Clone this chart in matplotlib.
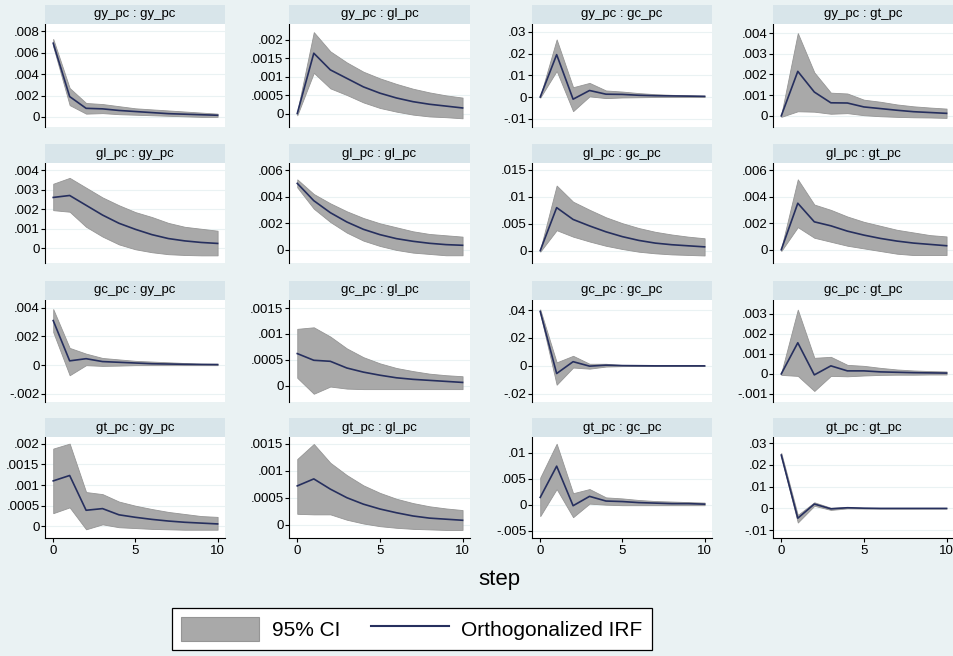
import numpy as np
import matplotlib
matplotlib.use("Agg")
from matplotlib import pyplot as plt
from matplotlib.patches import Patch, Rectangle
from matplotlib.lines import Line2D
from matplotlib.ticker import FuncFormatter

plt.rcParams['font.family'] = ['Liberation Sans', 'DejaVu Sans']

# variable names, impulse : response
names = ['gy_pc', 'gl_pc', 'gc_pc', 'gt_pc']
steps = list(range(11))

# orthogonalized IRF, [impulse][response]
irf = {
    ('gy_pc', 'gy_pc'): [0.0069, 0.0019, 0.0008, 0.00075, 0.0006, 0.0005, 0.0004, 0.0003, 0.00025, 0.0002, 0.00015],
    ('gy_pc', 'gl_pc'): [0.0, 0.00163, 0.00118, 0.00095, 0.00072, 0.00055, 0.00042, 0.00032, 0.00025, 0.0002, 0.00015],
    ('gy_pc', 'gc_pc'): [0.0, 0.0195, -0.001, 0.003, 0.0013, 0.0012, 0.0008, 0.0006, 0.0005, 0.0004, 0.0003],
    ('gy_pc', 'gt_pc'): [0.0, 0.00215, 0.00115, 0.00063, 0.00062, 0.00043, 0.00035, 0.00027, 0.0002, 0.00016, 0.00012],
    ('gl_pc', 'gy_pc'): [0.0026, 0.0027, 0.0022, 0.0017, 0.00128, 0.00097, 0.0007, 0.0005, 0.00038, 0.0003, 0.00025],
    ('gl_pc', 'gl_pc'): [0.005, 0.0037, 0.0028, 0.0021, 0.00155, 0.00115, 0.00085, 0.00065, 0.0005, 0.0004, 0.00035],
    ('gl_pc', 'gc_pc'): [0.0, 0.008, 0.0058, 0.0046, 0.0035, 0.0026, 0.0019, 0.0014, 0.0011, 0.0009, 0.0007],
    ('gl_pc', 'gt_pc'): [0.0, 0.0035, 0.0021, 0.0018, 0.0014, 0.0011, 0.00085, 0.00065, 0.0005, 0.0004, 0.0003],
    ('gc_pc', 'gy_pc'): [0.0031, 0.0003, 0.00045, 0.00025, 0.0002, 0.00015, 0.0001, 0.00008, 0.00006, 0.00005, 0.00004],
    ('gc_pc', 'gl_pc'): [0.00062, 0.00049, 0.00047, 0.00034, 0.00026, 0.0002, 0.00015, 0.00012, 0.0001, 0.00008, 0.00006],
    ('gc_pc', 'gc_pc'): [0.039, -0.0055, 0.003, -0.0002, 0.0005, 0.0002, 0.0001, 0.0, 0.0, 0.0, 0.0],
    ('gc_pc', 'gt_pc'): [0.0, 0.00155, -0.00005, 0.0004, 0.00015, 0.00015, 0.0001, 0.00008, 0.00006, 0.00005, 0.00004],
    ('gt_pc', 'gy_pc'): [0.0011, 0.00123, 0.00039, 0.00043, 0.00028, 0.00022, 0.00017, 0.00013, 0.0001, 0.00008, 0.00006],
    ('gt_pc', 'gl_pc'): [0.00072, 0.00085, 0.00066, 0.0005, 0.00038, 0.00029, 0.00022, 0.00016, 0.00012, 0.0001, 0.00008],
    ('gt_pc', 'gc_pc'): [0.0014, 0.0074, -0.0002, 0.0016, 0.0007, 0.0006, 0.0004, 0.0003, 0.0002, 0.0002, 0.0001],
    ('gt_pc', 'gt_pc'): [0.0245, -0.0045, 0.002, -0.0002, 0.0003, 0.0001, 0.0, 0.0, 0.0, 0.0, 0.0],
}

# 95% CI upper bound
upper = {
    ('gy_pc', 'gy_pc'): [0.0073, 0.0027, 0.0013, 0.0012, 0.001, 0.0008, 0.0007, 0.0006, 0.0005, 0.0004, 0.0003],
    ('gy_pc', 'gl_pc'): [0.00005, 0.0022, 0.00168, 0.00138, 0.00113, 0.00095, 0.0008, 0.00067, 0.00057, 0.00049, 0.00043],
    ('gy_pc', 'gc_pc'): [0.0003, 0.0265, 0.0045, 0.0065, 0.003, 0.0025, 0.0018, 0.0013, 0.001, 0.0008, 0.0006],
    ('gy_pc', 'gt_pc'): [0.00005, 0.004, 0.0021, 0.00112, 0.00108, 0.00078, 0.00068, 0.00055, 0.00046, 0.0004, 0.00035],
    ('gl_pc', 'gy_pc'): [0.0033, 0.0036, 0.0031, 0.0026, 0.0022, 0.00185, 0.0016, 0.0013, 0.0011, 0.001, 0.0009],
    ('gl_pc', 'gl_pc'): [0.0053, 0.0042, 0.0035, 0.0029, 0.0024, 0.002, 0.0017, 0.0014, 0.0012, 0.0011, 0.001],
    ('gl_pc', 'gc_pc'): [0.0002, 0.0121, 0.0091, 0.0076, 0.0062, 0.0051, 0.0042, 0.0035, 0.003, 0.0026, 0.0023],
    ('gl_pc', 'gt_pc'): [0.0001, 0.0053, 0.0034, 0.003, 0.0025, 0.0021, 0.0018, 0.0015, 0.0013, 0.0011, 0.001],
    ('gc_pc', 'gy_pc'): [0.0039, 0.0012, 0.0008, 0.0005, 0.0004, 0.0003, 0.00025, 0.0002, 0.00015, 0.0001, 0.0001],
    ('gc_pc', 'gl_pc'): [0.0011, 0.00113, 0.00095, 0.00072, 0.00055, 0.00043, 0.00034, 0.00028, 0.00023, 0.0002, 0.00018],
    ('gc_pc', 'gc_pc'): [0.0405, 0.0025, 0.0072, 0.0015, 0.0015, 0.0006, 0.0003, 0.0002, 0.0001, 0.0001, 0.0001],
    ('gc_pc', 'gt_pc'): [0.00005, 0.0032, 0.0008, 0.00085, 0.00045, 0.0004, 0.0003, 0.00022, 0.00017, 0.00014, 0.00012],
    ('gt_pc', 'gy_pc'): [0.00188, 0.002, 0.00083, 0.00078, 0.0006, 0.0005, 0.00042, 0.00035, 0.0003, 0.00025, 0.00023],
    ('gt_pc', 'gl_pc'): [0.00122, 0.0015, 0.00115, 0.00092, 0.00073, 0.00059, 0.00048, 0.0004, 0.00034, 0.0003, 0.00027],
    ('gt_pc', 'gc_pc'): [0.0052, 0.0117, 0.0022, 0.003, 0.0014, 0.0012, 0.0009, 0.0007, 0.0006, 0.0005, 0.0004],
    ('gt_pc', 'gt_pc'): [0.0255, -0.003, 0.0028, 0.0003, 0.0006, 0.0002, 0.0001, 0.0001, 0.0001, 0.0, 0.0],
}

# 95% CI lower bound
lower = {
    ('gy_pc', 'gy_pc'): [0.0066, 0.0011, 0.0003, 0.00035, 0.00025, 0.0002, 0.00015, 0.0001, 0.00005, 0.0, 0.0],
    ('gy_pc', 'gl_pc'): [-0.00005, 0.0011, 0.00068, 0.0005, 0.0003, 0.00015, 0.00005, -0.00003, -0.00008, -0.0001, -0.00013],
    ('gy_pc', 'gc_pc'): [-0.0003, 0.012, -0.0065, 0.0003, -0.0005, -0.0002, -0.0001, 0.0, 0.0, 0.0, 0.0],
    ('gy_pc', 'gt_pc'): [-0.00005, 0.00022, 0.0002, 0.0001, 0.00013, 0.00003, -0.00002, -0.00005, -0.00007, -0.00008, -0.0001],
    ('gl_pc', 'gy_pc'): [0.00195, 0.00187, 0.0011, 0.0006, 0.0002, -0.00005, -0.0002, -0.0003, -0.00034, -0.00036, -0.00036],
    ('gl_pc', 'gl_pc'): [0.0047, 0.0031, 0.0021, 0.0013, 0.0007, 0.0003, 0.0, -0.0002, -0.0003, -0.0004, -0.0004],
    ('gl_pc', 'gc_pc'): [-0.0002, 0.0038, 0.0026, 0.0017, 0.0009, 0.0003, -0.0002, -0.0005, -0.0007, -0.0008, -0.0009],
    ('gl_pc', 'gt_pc'): [-0.0001, 0.0017, 0.0009, 0.0006, 0.0003, 0.0001, -0.0001, -0.0003, -0.0004, -0.0004, -0.0004],
    ('gc_pc', 'gy_pc'): [0.0023, -0.0007, 0.0, -0.00005, -0.00003, 0.0, 0.0, 0.0, 0.0, 0.0, 0.0],
    ('gc_pc', 'gl_pc'): [0.00015, -0.00016, -0.00002, -0.00006, -0.00007, -0.00007, -0.00007, -0.00007, -0.00007, -0.00007, -0.00007],
    ('gc_pc', 'gc_pc'): [0.0375, -0.0135, -0.0012, -0.002, -0.0005, -0.0002, -0.0001, -0.0001, 0.0, 0.0, 0.0],
    ('gc_pc', 'gt_pc'): [-0.00005, -0.0001, -0.00085, -0.0001, -0.00012, -0.00008, -0.00005, -0.00004, -0.00004, -0.00003, -0.00003],
    ('gt_pc', 'gy_pc'): [0.00032, 0.00046, -0.00007, 0.00005, -0.00002, -0.00004, -0.00006, -0.00007, -0.00008, -0.00008, -0.00008],
    ('gt_pc', 'gl_pc'): [0.0002, 0.00019, 0.00019, 0.00009, 0.00002, -0.00003, -0.00006, -0.00008, -0.00009, -0.0001, -0.0001],
    ('gt_pc', 'gc_pc'): [-0.0022, 0.003, -0.0024, 0.0002, 0.0, -0.0001, -0.0001, -0.0001, -0.0001, -0.0001, -0.0001],
    ('gt_pc', 'gt_pc'): [0.0235, -0.0065, 0.0012, -0.0007, 0.0, -0.0001, -0.0001, -0.0001, -0.0001, 0.0, 0.0],
}

# y ticks for each panel (row by row)
yticks = [
    [[0, .002, .004, .006, .008], [0, .0005, .001, .0015, .002], [-.01, 0, .01, .02, .03], [0, .001, .002, .003, .004]],
    [[0, .001, .002, .003, .004], [0, .002, .004, .006], [0, .005, .01, .015], [0, .002, .004, .006]],
    [[-.002, 0, .002, .004], [0, .0005, .001, .0015], [-.02, 0, .02, .04], [-.001, 0, .001, .002, .003]],
    [[0, .0005, .001, .0015, .002], [0, .0005, .001, .0015], [-.005, 0, .005, .01], [-.01, 0, .01, .02, .03]],
]
ylims = [
    [(-0.00095, 0.0087), (-0.000365, 0.00242), (-0.0138, 0.0336), (-0.00054, 0.00444)],
    [(-0.00075, 0.00436), (-0.00098, 0.00653), (-0.0023, 0.0163), (-0.001, 0.00653)],
    [(-0.00256, 0.00453), (-0.00032, 0.00166), (-0.0259, 0.0472), (-0.0014, 0.00368)],
    [(-0.00028, 0.00216), (-0.00025, 0.00163), (-0.0064, 0.013), (-0.0136, 0.0328)],
]

bg = '#eaf2f3'
strip = '#d8e5ea'
band = '#a9a9a9'
band_edge = '#959595'
navy = '#262f5e'


def stata_fmt(v, pos):
    if abs(v) < 1e-12:
        return '0'
    s = ('%.4f' % v).rstrip('0')
    s = s.replace('0.', '.')
    return s


W, H = 954, 656
fig = plt.figure(figsize=(W / 100, H / 100), dpi=100, facecolor=bg)

col_left = [45, 289, 532, 773]
col_w = [180, 181, 180, 181]
row_top = [24, 163, 300, 437]
row_h = [103, 100, 102, 101]
strip_h = 19

for i, imp in enumerate(names):
    for j, resp in enumerate(names):
        x0 = col_left[j]
        y0 = row_top[i]
        ax = fig.add_axes([x0 / W, 1 - (y0 + row_h[i]) / H, col_w[j] / W, row_h[i] / H])
        ax.set_facecolor('white')
        key = (imp, resp)
        ax.fill_between(steps, lower[key], upper[key], facecolor=band, edgecolor=band_edge,
                        linewidth=0.6, zorder=2)
        ax.plot(steps, irf[key], color=navy, linewidth=1.2, zorder=3)
        ax.set_xlim(-0.5, 10.45)
        ax.set_ylim(*ylims[i][j])
        ax.set_yticks(yticks[i][j])
        ax.yaxis.set_major_formatter(FuncFormatter(stata_fmt))
        ax.grid(axis='y', color=bg, linewidth=0.8, zorder=0)
        ax.tick_params(axis='y', labelsize=9.5, length=3, width=0.8, pad=1, colors='black')
        for s in ['top', 'right']:
            ax.spines[s].set_visible(False)
        ax.spines['left'].set_linewidth(0.8)
        if i == 3:
            ax.set_xticks([0, 5, 10])
            ax.tick_params(axis='x', labelsize=9.5, length=3, width=0.8, pad=2)
            ax.spines['bottom'].set_linewidth(0.8)
        else:
            ax.set_xticks([])
            ax.spines['bottom'].set_visible(False)

        # title strip
        fig.patches.append(Rectangle((x0 / W, 1 - y0 / H), col_w[j] / W, strip_h / H,
                                     transform=fig.transFigure, facecolor=strip,
                                     edgecolor='none', zorder=0))
        fig.text((x0 + col_w[j] / 2) / W, 1 - (y0 - strip_h / 2) / H, imp + ' : ' + resp,
                 ha='center', va='center', fontsize=9.5)

fig.text(0.5 * (45 + 954) / W, 1 - 580 / H, 'step', ha='center', va='center', fontsize=16)

handles = [Patch(facecolor=band, edgecolor=band_edge, linewidth=0.8),
           Line2D([0], [0], color=navy, linewidth=1.5)]
leg = fig.legend(handles, ['95% CI', 'Orthogonalized IRF'], loc='center',
                 bbox_to_anchor=(412 / W, 1 - 629 / H), ncol=2, fontsize=15,
                 frameon=True, fancybox=False, edgecolor='black', framealpha=1,
                 handlelength=3.75, handleheight=1.4, columnspacing=1.5,
                 borderpad=0.45, handletextpad=0.58)
leg.get_frame().set_linewidth(0.9)

fig.savefig('out.png', dpi=100, facecolor=bg)
